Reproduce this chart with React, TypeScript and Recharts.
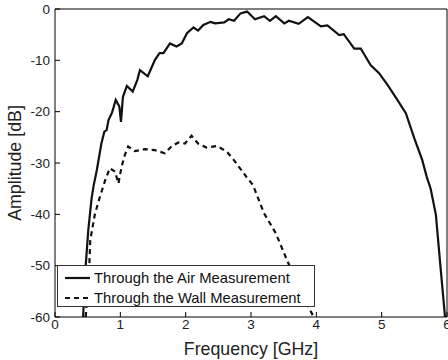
import React from 'react';
import { LineChart, Line, XAxis, YAxis, Legend } from 'recharts';

// frequency in GHz, amplitude in dB
const airFreq = [0.43, 0.47, 0.51, 0.56, 0.59, 0.64, 0.71, 0.755, 0.79, 0.82, 0.87, 0.93, 0.985, 1.01, 1.04, 1.1, 1.19, 1.26, 1.3, 1.42, 1.53, 1.6, 1.66, 1.76, 1.86, 1.94, 2.02, 2.12, 2.19, 2.27, 2.38, 2.45, 2.59, 2.66, 2.74, 2.84, 2.94, 3.06, 3.2, 3.29, 3.38, 3.51, 3.58, 3.73, 3.87, 4.07, 4.17, 4.35, 4.42, 4.58, 4.68, 4.83, 4.96, 5.09, 5.24, 5.37, 5.5, 5.62, 5.69, 5.75, 5.83, 5.9, 5.97];
const airAmp = [-60, -50, -43, -36.9, -34.5, -31.4, -26.2, -23.9, -23.6, -21.6, -20.3, -17.7, -19.0, -22.0, -17.1, -15.0, -16.1, -13.8, -11.9, -13.1, -9.9, -8.6, -8.6, -6.7, -7.3, -6.7, -4.7, -3.6, -4.2, -3.1, -2.5, -2.8, -2.6, -2.0, -2.3, -0.85, -0.5, -2.0, -1.4, -2.3, -1.4, -2.8, -2.3, -2.9, -1.6, -3.4, -3.2, -5.1, -4.9, -7.7, -7.7, -10.9, -12.5, -14.8, -17.7, -20.3, -25.2, -29.4, -32.7, -35, -40.1, -50.2, -60];

const wallFreq = [0.47, 0.525, 0.54, 0.61, 0.68, 0.77, 0.84, 0.92, 0.97, 1.02, 1.07, 1.12, 1.22, 1.38, 1.53, 1.68, 1.79, 1.89, 1.99, 2.09, 2.19, 2.32, 2.48, 2.63, 2.73, 2.83, 2.93, 3.03, 3.2, 3.38, 3.56, 3.89, 3.96];
const wallAmp = [-60, -50, -45, -40, -36.9, -33.3, -31.0, -31.7, -34.0, -30.7, -28.4, -26.8, -27.7, -27.3, -27.5, -28.1, -26.7, -26.0, -26.2, -24.7, -26.2, -27.0, -26.7, -27.8, -29.3, -31.0, -32.7, -34.3, -39.8, -43.7, -49.2, -58.3, -60];

const freqTicks = [0, 1, 2, 3, 4, 5, 6];
const ampTicks = [-60, -50, -40, -30, -20, -10, 0];
const seriesNames = ['Through the Air Measurement', 'Through the Wall Measurement'];

const airData = airFreq.map((f, i) => ({ f, amp: airAmp[i] }));
const wallData = wallFreq.map((f, i) => ({ f, amp: wallAmp[i] }));

const font = '"Liberation Sans", Arial, Helvetica, sans-serif';
const ink = '#111';

const LegendBox = () => (
  <div
    style={{
      width: 256,
      height: 38,
      paddingTop: 2,
      background: '#fff',
      border: '1px solid #333',
      fontFamily: font,
      fontSize: 14.8,
      color: ink,
      boxSizing: 'content-box',
    }}
  >
    {seriesNames.map((name, i) => (
      <div key={name} style={{ display: 'flex', alignItems: 'center', height: 20, whiteSpace: 'nowrap' }}>
        <svg width={36} height={6} style={{ flex: 'none' }}>
          <line x1={7} y1={3} x2={32} y2={3} stroke={ink} strokeWidth={2.2}
            strokeDasharray={i === 1 ? '5 4' : undefined} />
        </svg>
        <span>{name}</span>
      </div>
    ))}
  </div>
);

export default function App() {
  return (
    <div style={{ position: 'absolute', left: 0, top: 0, width: 448, height: 360, background: '#fff' }}>
      <LineChart width={448} height={360} margin={{ top: 8, right: 0, bottom: 0, left: 0 }}
        style={{ fontFamily: font }}>
        <XAxis dataKey="f" type="number" domain={[0, 6]} ticks={freqTicks} interval={0}
          height={43} tickSize={-5} tickMargin={7} stroke="#000"
          tick={{ fill: '#222', fontSize: 13.5 }}
          label={{ value: 'Frequency [GHz]', position: 'insideBottom', offset: 5, fill: '#222', fontSize: 17.8 }} />
        <XAxis xAxisId="top" orientation="top" type="number" domain={[0, 6]} ticks={freqTicks}
          interval={0} height={1} tickSize={-5} tick={false} stroke="#000" />
        <YAxis type="number" domain={[-60, 0]} ticks={ampTicks} interval={0} width={55}
          tickSize={-5} tickMargin={10} stroke="#000" tick={{ fill: '#222', fontSize: 13.5 }}
          label={{ value: 'Amplitude [dB]', angle: -90, position: 'insideLeft', offset: 15,
            fill: '#222', fontSize: 17.8, style: { textAnchor: 'middle' } }} />
        <YAxis yAxisId="right" orientation="right" type="number" domain={[-60, 0]} ticks={ampTicks}
          interval={0} width={1} tickSize={-5} tick={false} stroke="#000" />
        <Line data={airData} dataKey="amp" name={seriesNames[0]} type="linear" stroke={ink}
          strokeWidth={2.2} dot={false} isAnimationActive={false} />
        <Line data={wallData} dataKey="amp" name={seriesNames[1]} type="linear" stroke={ink}
          strokeWidth={2.2} strokeDasharray="5 4" dot={false} isAnimationActive={false} />
        <Legend layout="vertical" align="center" verticalAlign="middle" content={<LegendBox />}
          wrapperStyle={{ left: 57, top: 265, width: 258, height: 42 }} />
      </LineChart>
    </div>
  );
}
